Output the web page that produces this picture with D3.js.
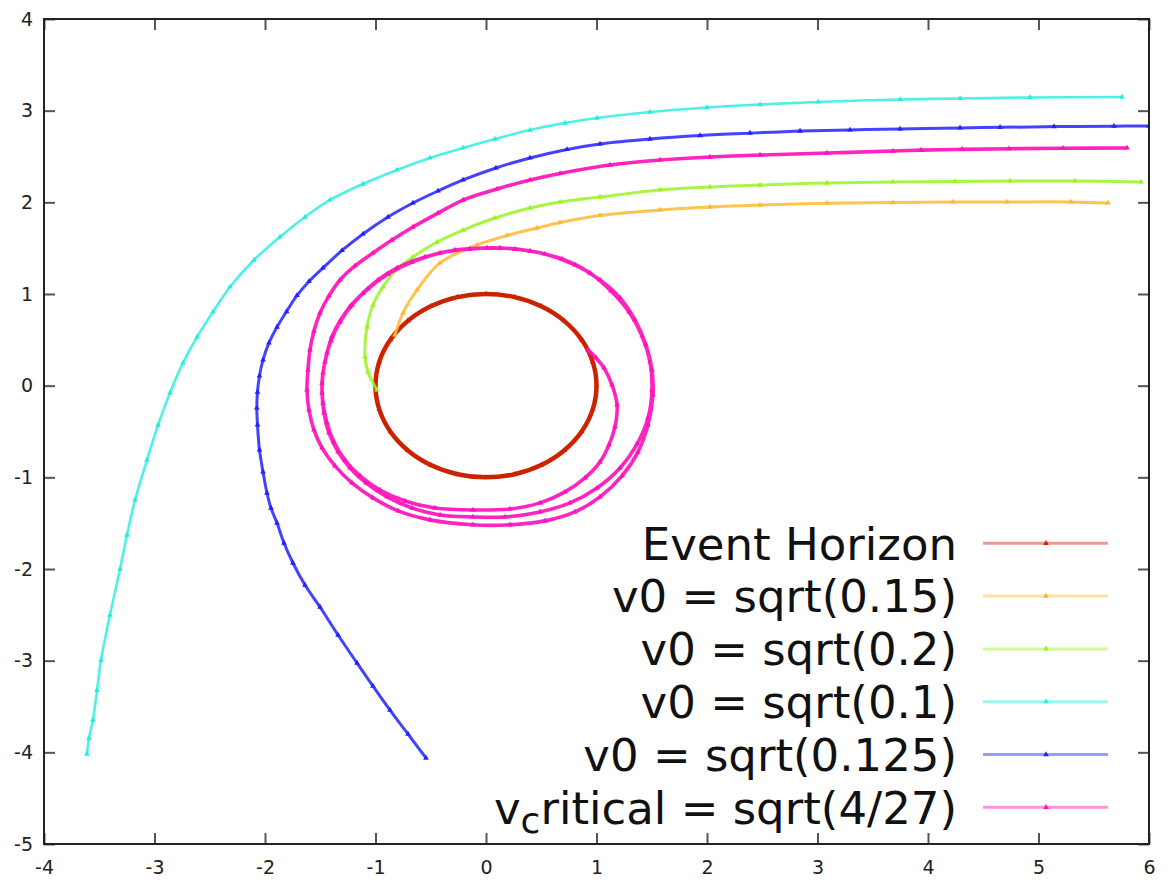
<!DOCTYPE html>
<html><head><meta charset="utf-8">
<script src="https://cdn.jsdelivr.net/npm/d3@7"></script>
<style>body{margin:0;background:#fff} svg{display:block}</style>
</head><body><svg id="c" width="1168" height="882"></svg>
<script>
const xTicks = [-4,-3,-2,-1,0,1,2,3,4,5,6];
const yTicks = [-5,-4,-3,-2,-1,0,1,2,3,4];
const seriesNames = ["Event Horizon","v0 = sqrt(0.15)","v0 = sqrt(0.2)","v0 = sqrt(0.1)","v0 = sqrt(0.125)","critical"];
const seriesColors = ["#cc2200","#ffb833","#99f522","#22eedd","#2222ff","#ff11bb"];

const eventHorizon = [[1,0],[0.966,0.259],[0.866,0.5],[0.707,0.707],[0.5,0.866],[0.259,0.966],[0,1],
 [-0.259,0.966],[-0.5,0.866],[-0.707,0.707],[-0.866,0.5],[-0.966,0.259],[-1,0],[-0.966,-0.259],
 [-0.866,-0.5],[-0.707,-0.707],[-0.5,-0.866],[-0.259,-0.966],[0,-1],[0.259,-0.966],[0.5,-0.866],
 [0.707,-0.707],[0.866,-0.5],[0.966,-0.259]];

const orbit015 = [[5.629,1.993],[5.294,2.004],[4.715,2.004],[4.226,2.004],[3.683,1.998],[3.086,1.991],
 [2.480,1.971],[2.027,1.949],[1.575,1.917],[1.032,1.857],[0.670,1.780],[0.462,1.720],[0.190,1.638],
 [-0.081,1.535],[-0.416,1.339],[-0.624,1.044],[-0.751,0.793],[-0.824,0.553]];

const orbit02 = [[5.928,2.222],[5.330,2.233],[4.742,2.233],[4.244,2.226],[3.683,2.222],[3.086,2.211],
 [2.480,2.189],[2.027,2.167],[1.575,2.135],[1.032,2.058],[0.670,2.004],[0.398,1.938],[0.081,1.829],
 [-0.208,1.698],[-0.443,1.567],[-0.661,1.404],[-0.814,1.262],[-0.932,1.077],[-1.023,0.880],
 [-1.077,0.640],[-1.095,0.313],[-1.068,0.150],[-0.986,-0.047]];

const orbit01 = [[5.756,3.149],[4.923,3.144],[4.290,3.133],[3.747,3.122],[3.005,3.095],[2.480,3.067],
 [2.0,3.034],[1.484,2.985],[1.005,2.920],[0.715,2.865],[0.398,2.789],[0.081,2.691],[-0.208,2.593],
 [-0.507,2.484],[-0.805,2.353],[-1.113,2.200],[-1.412,2.026],[-1.638,1.840],[-1.864,1.622],
 [-2.100,1.371],[-2.317,1.077],[-2.471,0.804],[-2.615,0.531],[-2.742,0.248],[-2.860,-0.079],
 [-2.968,-0.429],[-3.068,-0.811],[-3.176,-1.247],[-3.249,-1.629],[-3.312,-2.0],[-3.403,-2.502],
 [-3.484,-2.993],[-3.520,-3.321],[-3.557,-3.648],[-3.593,-3.844],[-3.611,-4.019]];

const orbit0125 = [[6.0,2.833],[5.683,2.831],[5.140,2.826],[4.652,2.818],[4.290,2.812],[3.747,2.801],
 [3.294,2.790],[2.842,2.777],[2.389,2.755],[1.937,2.729],[1.484,2.691],[1.032,2.637],[0.733,2.577],
 [0.398,2.484],[0.090,2.375],[-0.208,2.244],[-0.434,2.124],[-0.661,1.993],[-0.887,1.840],
 [-1.113,1.655],[-1.303,1.475],[-1.475,1.284],[-1.602,1.137],[-1.710,0.984],[-1.805,0.809],
 [-1.891,0.640],[-1.964,0.466],[-2.018,0.281],[-2.050,0.106],[-2.068,-0.069],[-2.074,-0.243],
 [-2.068,-0.428],[-2.050,-0.701],[-2.018,-0.941],[-1.982,-1.171],[-1.946,-1.335],[-1.891,-1.499],
 [-1.828,-1.717],[-1.747,-1.935],[-1.638,-2.175],[-1.502,-2.415],[-1.339,-2.720],[-1.167,-3.026],
 [-1.023,-3.277],[-0.869,-3.539],[-0.706,-3.800],[-0.543,-4.062]];

const orbitCritical = [[5.801,2.593],[5.222,2.590],[4.733,2.585],[4.308,2.578],[3.937,2.570],
 [3.683,2.560],[3.086,2.538],[2.480,2.516],[2.027,2.494],[1.575,2.462],[1.122,2.407],[0.670,2.315],
 [0.398,2.244],[0.100,2.146],[-0.208,2.025],[-0.434,1.883],[-0.661,1.731],[-0.851,1.589],
 [-1.023,1.448],[-1.186,1.306],[-1.321,1.153],[-1.421,0.979],[-1.502,0.793],[-1.557,0.597],
 [-1.593,0.390],[-1.611,0.172],[-1.620,-0.047],[-1.602,-0.265],[-1.557,-0.483],[-1.484,-0.679],
 [-1.367,-0.875],[-1.213,-1.061],[-1.023,-1.224],[-0.796,-1.366],[-0.507,-1.464],[-0.118,-1.518],
 [0.217,-1.518],[0.534,-1.475],[0.805,-1.377],[1.032,-1.213],[1.231,-0.984],[1.376,-0.722],
 [1.466,-0.428],[1.511,-0.101],[1.502,0.172],[1.448,0.444],[1.348,0.717],[1.213,0.957],
 [1.032,1.153],[0.805,1.317],[0.534,1.437],[0.262,1.491],[0.009,1.502],[-0.281,1.480],
 [-0.552,1.404],[-0.805,1.284],[-0.977,1.153],[-1.113,1.011],[-1.231,0.862],[-1.321,0.705],
 [-1.394,0.535],[-1.439,0.357],[-1.475,0.139],[-1.484,-0.080],[-1.466,-0.298],[-1.421,-0.516],
 [-1.339,-0.723],[-1.231,-0.898],[-1.086,-1.061],[-0.896,-1.214],[-0.670,-1.334],[-0.416,-1.410],
 [-0.118,-1.432],[0.172,-1.432],[0.489,-1.377],[0.760,-1.279],[1.005,-1.116],[1.213,-0.898],
 [1.367,-0.636],[1.466,-0.352],[1.502,-0.047],[1.484,0.259],[1.412,0.542],[1.294,0.804],
 [1.131,1.033],[0.941,1.229],[0.688,1.382],[0.398,1.469],[0.127,1.502],[-0.145,1.491],
 [-0.416,1.447],[-0.670,1.349],[-0.887,1.218],[-1.068,1.055],[-1.213,0.880],[-1.321,0.695],
 [-1.403,0.488],[-1.457,0.259],[-1.484,0.029],[-1.475,-0.189],[-1.439,-0.407],[-1.376,-0.614],
 [-1.276,-0.811],[-1.140,-0.985],[-0.959,-1.138],[-0.733,-1.258],[-0.462,-1.334],[-0.118,-1.356],
 [0.217,-1.345],[0.489,-1.279],[0.715,-1.159],[0.896,-1.006],[1.032,-0.831],[1.113,-0.646],
 [1.167,-0.449],[1.186,-0.209],[1.140,0.008],[1.068,0.194],[0.995,0.303],[0.923,0.390]];

const seriesData = [eventHorizon, orbit015, orbit02, orbit01, orbit0125, orbitCritical];

const L = 44, R = 1149, T = 19, B = 844;
const svg = d3.select("#c");
const x = d3.scaleLinear().domain([-4,6]).range([L,R]);
const y = d3.scaleLinear().domain([-5,4]).range([B,T]);
const FONT = "DejaVu Sans, sans-serif";

svg.append("defs").append("clipPath").attr("id","clip")
  .append("rect").attr("x",L).attr("y",T).attr("width",R-L).attr("height",B-T);

function styleAxis(g, labels){
  g.select(".domain").remove();
  g.selectAll(".tick line").attr("stroke","#555").attr("stroke-width",2);
  if(labels){
    g.selectAll(".tick text").attr("font-family",FONT).attr("font-size",19).attr("fill","#222");
  } else {
    g.selectAll(".tick text").remove();
  }
}
const fmt = d => String(d);
svg.append("g").attr("transform",`translate(0,${B})`)
  .call(d3.axisBottom(x).tickValues(xTicks).tickSize(-11).tickPadding(17).tickFormat(fmt))
  .call(g=>styleAxis(g,true));
svg.append("g").attr("transform",`translate(0,${T})`)
  .call(d3.axisTop(x).tickValues(xTicks).tickSize(-11))
  .call(g=>styleAxis(g,false));
svg.append("g").attr("transform",`translate(${L},0)`)
  .call(d3.axisLeft(y).tickValues(yTicks).tickSize(-11).tickPadding(11).tickFormat(fmt))
  .call(g=>styleAxis(g,true));
svg.append("g").attr("transform",`translate(${R},0)`)
  .call(d3.axisRight(y).tickValues(yTicks).tickSize(-11))
  .call(g=>styleAxis(g,false));

const plot = svg.append("g").attr("clip-path","url(#clip)");
const tri = d3.symbol().type(d3.symbolTriangle).size(14);
const widths = [4.5,3,3,2.6,3,3.6];
const opac = [1,0.85,0.85,0.8,0.85,0.92];

seriesData.forEach((data,i)=>{
  const closed = i===0;
  const line = d3.line().x(d=>x(d[0])).y(d=>y(d[1]))
    .curve(closed ? d3.curveCatmullRomClosed.alpha(0.5) : d3.curveCatmullRom.alpha(0.5));
  plot.append("path").attr("d",line(data)).attr("fill","none")
    .attr("stroke",seriesColors[i]).attr("stroke-width",widths[i])
    .attr("stroke-opacity",opac[i]).attr("stroke-linejoin","round");
  plot.append("g").selectAll("path").data(data).join("path")
    .attr("d",tri).attr("transform",d=>`translate(${x(d[0])},${y(d[1])})`)
    .attr("fill",seriesColors[i]);
});

svg.append("rect").attr("x",L).attr("y",T).attr("width",R-L).attr("height",B-T)
  .attr("fill","none").attr("stroke","#222").attr("stroke-width",2);

// legend
const legend = svg.append("g");
seriesNames.forEach((name,i)=>{
  const cy = 543.3 + i*52.8;
  legend.append("line").attr("x1",983).attr("x2",1108).attr("y1",cy).attr("y2",cy)
    .attr("stroke",seriesColors[i]).attr("stroke-width",3).attr("stroke-opacity",0.45);
  legend.append("path").attr("d",tri).attr("transform",`translate(1046,${cy})`).attr("fill",seriesColors[i]);
  const t = legend.append("text").attr("x",957).attr("y",cy).attr("dy","0.36em")
    .attr("text-anchor","end").attr("font-family",FONT).attr("font-size",45).attr("fill","#111");
  if(name==="critical"){
    t.append("tspan").text("v");
    t.append("tspan").attr("font-size",36).attr("dy",9).text("c");
    t.append("tspan").attr("dy",-9).text("ritical = sqrt(4/27)");
  } else {
    t.text(name);
  }
});
</script></body></html>
